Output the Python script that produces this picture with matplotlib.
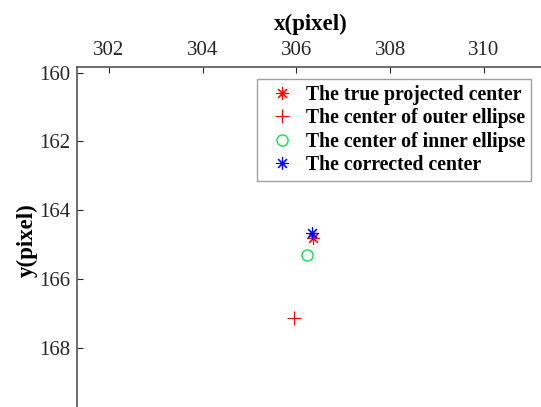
import matplotlib
matplotlib.use("Agg")
import matplotlib.pyplot as plt

labels = ["The true projected center", "The center of outer ellipse",
          "The center of inner ellipse", "The corrected center"]
true_x, true_y = [306.35], [164.80]
outer_x, outer_y = [305.94], [167.15]
inner_x, inner_y = [306.23], [165.32]
corr_x, corr_y = [306.33], [164.67]
xticks = [302, 304, 306, 308, 310]
yticks = [160, 162, 164, 166, 168]

plt.rcParams['font.family'] = ['Liberation Serif', 'DejaVu Serif']

fig = plt.figure(figsize=(5.41, 4.07), dpi=100)
ax = fig.add_axes([77/541, 1-413/407, (545-77)/541, (413-67)/407])

star = (8, 2, 0)
ax.plot(true_x, true_y, linestyle='none', marker=star, markersize=9, color='red',
        markeredgecolor='red', markeredgewidth=0.8, label=labels[0])
ax.plot(outer_x, outer_y, linestyle='none', marker='+', markersize=10, color='red',
        markeredgecolor='red', markeredgewidth=0.8, label=labels[1])
ax.plot(inner_x, inner_y, linestyle='none', marker='o', markersize=8, color='#10e050',
        markerfacecolor='none', markeredgecolor='#10e050', markeredgewidth=1.0,
        label=labels[2])
ax.plot(corr_x, corr_y, linestyle='none', marker=star, markersize=9, color='blue',
        markeredgecolor='blue', markeredgewidth=0.8, label=labels[3])

ax.set_xlim(301.32, 311.30)
ax.set_ylim(169.90, 159.84)
ax.set_xticks(xticks)
ax.set_yticks(yticks)
ax.xaxis.tick_top()
ax.xaxis.set_label_position('top')
ax.tick_params(axis='both', direction='in', length=4, width=0.8,
               labelsize=15, colors='#262626', pad=5)
ax.tick_params(axis='x', top=True, bottom=False)
ax.tick_params(axis='y', left=True, right=False)
for s in ['right', 'bottom']:
    ax.spines[s].set_visible(False)
for s in ['top', 'left']:
    ax.spines[s].set_color('#555555')
    ax.spines[s].set_linewidth(1.2)

ax.set_xlabel('x(pixel)', fontsize=16.5, fontweight='bold', labelpad=8)
ax.set_ylabel('y(pixel)', fontsize=16.5, fontweight='bold', labelpad=1)

leg = ax.legend(loc='upper left',
                prop={'weight': 'bold', 'size': 14.2}, frameon=True,
                fancybox=False, borderpad=0.3, labelspacing=0.17,
                handletextpad=0.3, handlelength=1.9, borderaxespad=0)
leg.get_frame().set_edgecolor('#888888')
leg.get_frame().set_linewidth(1.0)
leg.set_bbox_to_anchor((257/541, 1-79/407), transform=fig.transFigure)

fig.savefig('out.png', dpi=100)
